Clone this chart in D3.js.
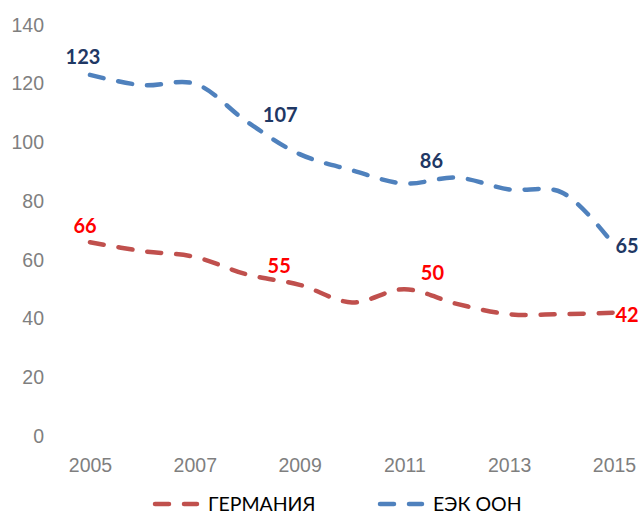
<!DOCTYPE html>
<meta charset="utf-8">
<style>

body { margin: 0; background: #fff; }

svg { font-family: Lato, "Open Sans", sans-serif; }

.axis text {
  fill: #7f7f7f;
  font-size: 19.5px;
}

.axis path,
.axis line {
  display: none;
}

.series {
  fill: none;
  stroke-width: 4.5;
  stroke-dasharray: 14, 15;
  stroke-linecap: round;
}

.value {
  font-size: 20px;
  font-weight: bold;
}

.legend text {
  font-size: 19.5px;
  fill: #000;
}

</style>
<body>

<script src="https://cdn.jsdelivr.net/npm/d3@7"></script>

<script>

// data
var years = [2005, 2006, 2007, 2008, 2009, 2010, 2011, 2012, 2013, 2014, 2015];
var germany = [66, 63, 61, 55, 51.5, 45.5, 50, 45, 41.5, 41.5, 42];
var unece = [123, 119.5, 120, 107, 96, 90.5, 86, 88, 84, 83, 65];
var yearTicks = [2005, 2007, 2009, 2011, 2013, 2015];
var valueTicks = [0, 20, 40, 60, 80, 100, 120, 140];
var seriesNames = ["ГЕРМАНИЯ", "ЕЭК ООН"];
// which points get a value label
var labelled = [0, 3, 6, 10];

// layout
var width = 640, height = 514;
var lineColors = ["#c0504d", "#4f81bd"];
var labelColors = ["#ff0000", "#1f3864"];
// label offsets from the point, per labelled index, per series
var labelOffsets = [
  [[-5, -9], [32, -2], [28, -9], [13, 9]],
  [[-7, -11], [33, 0], [27, -16], [13, 8]]
];

var x = d3.scaleLinear().domain([2005, 2015]).range([90, 614]);
var y = d3.scaleLinear().domain([0, 140]).range([436, 25]);

var svg = d3.select("body")
  .append("svg")
    .attr("width", width)
    .attr("height", height);

svg.append("g")
  .attr("class", "axis")
  .attr("transform", "translate(50,0)")
  .call(d3.axisLeft(y).tickValues(valueTicks).tickSize(0).tickPadding(6));

svg.append("g")
  .attr("class", "axis")
  .attr("transform", "translate(0,436)")
  .call(d3.axisBottom(x).tickValues(yearTicks).tickFormat(d3.format("d"))
    .tickSize(0).tickPadding(22));

var line = d3.line()
  .x(function(d) { return x(d[0]); })
  .y(function(d) { return y(d[1]); })
  .curve(d3.curveCatmullRom.alpha(0.5));

[germany, unece].forEach(function(values, s) {
  var pts = years.map(function(yr, i) { return [yr, values[i]]; });

  svg.append("path")
    .datum(pts)
    .attr("class", "series")
    .attr("stroke", lineColors[s])
    .attr("d", line);

  svg.selectAll(".value-" + s)
    .data(labelled)
    .enter().append("text")
    .attr("class", "value value-" + s)
    .attr("fill", labelColors[s])
    .attr("text-anchor", "middle")
    .attr("x", function(i, k) { return x(years[i]) + labelOffsets[s][k][0]; })
    .attr("y", function(i, k) { return y(values[i]) + labelOffsets[s][k][1]; })
    .text(function(i) { return values[i]; });
});

// legend
var legendX = [153, 378];
var legend = svg.append("g").attr("class", "legend");

seriesNames.forEach(function(name, s) {
  legend.append("line")
    .attr("class", "series")
    .attr("stroke", lineColors[s])
    .attr("x1", legendX[s] + 2)
    .attr("x2", legendX[s] + 44)
    .attr("y1", 504)
    .attr("y2", 504);

  legend.append("text")
    .attr("x", legendX[s] + 55)
    .attr("y", 511)
    .text(name);
});

</script>
</body>
